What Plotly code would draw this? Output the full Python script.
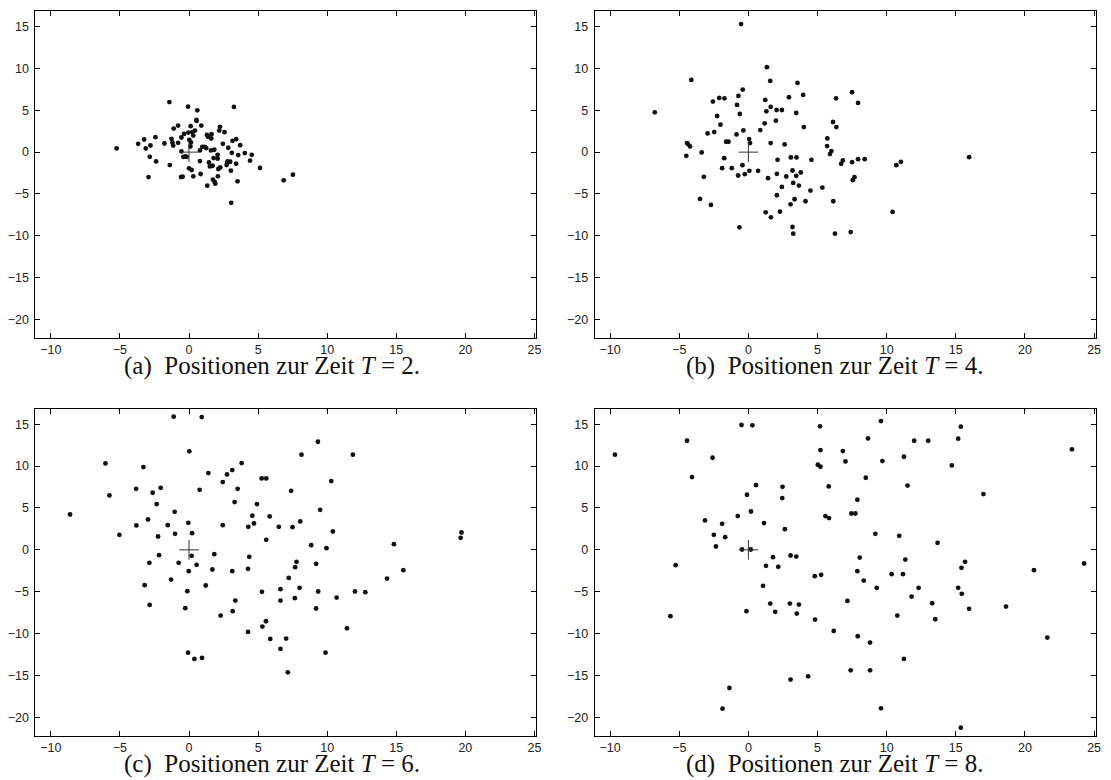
import plotly.graph_objects as go

# ---------------- data ----------------
x_ticks = [-10, -5, 0, 5, 10, 15, 20, 25]
y_ticks = [-20, -15, -10, -5, 0, 5, 10, 15]
x_limits = [-11.12, 25.12]
y_limits = [-22.2, 16.88]

captions = [
    "(a)\u2002Positionen zur Zeit <i>T</i> = 2.",
    "(b)\u2002Positionen zur Zeit <i>T</i> = 4.",
    "(c)\u2002Positionen zur Zeit <i>T</i> = 6.",
    "(d)\u2002Positionen zur Zeit <i>T</i> = 8.",
]

t2_x = [-5.24, -3.68, -3.25, -3.13, -2.79, -2.43, -2.84, -2.38, -2.93, -1.42,
        -1.78, -1.27, -1.20, -1.11, -0.79, -1.15, -1.39, -0.79, -0.55, -0.36,
        -0.55, -0.41, -0.26, -0.17, -0.58, -0.46, -0.07, -0.05, 0.12, 0.24,
        0.43, 0.53, 0.55, 0.60, 0.89, 0.02, 0.14, 0.10, 0.31, 0.00,
        0.19, 0.31, 0.79, 0.84, 0.79, 0.96, 1.13, 1.25, 1.30, 1.37,
        1.63, 1.61, 1.59, 1.83, 1.44, 1.51, 1.71, 1.78, 2.07, 2.07,
        1.73, 1.85, 1.90, 1.32, 2.09, 2.12, 2.26, 2.24, 2.19, 2.57,
        2.45, 2.84, 2.72, 2.79, 2.98, 2.76, 3.10, 3.03, 3.15, 3.41,
        3.70, 3.56, 3.41, 3.51, 3.25, 3.05, 4.04, 4.54, 4.42, 5.14,
        6.85, 7.52]
t2_y = [0.44, 0.99, 1.51, 0.44, 0.79, 1.79, -0.56, -1.11, -2.98, 5.99,
        1.03, 1.59, 1.15, 2.82, 3.17, 0.79, -1.55, 1.11, 1.75, 2.18,
        0.08, -0.56, -0.52, -0.56, -2.98, -2.94, 5.44, 2.34, 3.10, 2.38,
        2.58, 3.85, 3.73, 5.00, 3.17, 1.47, 1.15, 0.67, 1.98, -1.94,
        -2.14, -2.90, -1.07, -2.62, 0.20, 0.63, 0.63, 0.48, 2.06, 1.83,
        2.14, 1.63, 0.20, 0.28, -1.23, -1.71, -1.63, -0.71, -0.32, -0.79,
        -3.29, -3.57, -3.77, -4.01, -2.90, -2.02, -1.83, 3.02, 2.58, 2.38,
        0.99, 0.52, -1.55, -1.11, -1.15, -1.31, -0.08, -2.22, 1.35, 1.55,
        0.83, -0.36, -1.39, -3.49, 5.40, -6.07, -0.12, -0.32, -1.03, -1.90,
        -3.37, -2.70]

t4_x = [-0.53, 1.34, -4.13, 1.58, 3.55, -0.41, -0.72, -2.57, -2.11, -1.73,
        2.93, 3.96, 1.22, -0.82, 1.61, 1.30, 2.04, 2.42, -0.62, 3.46,
        -6.77, -2.26, 1.99, 1.18, -2.02, 4.01, -0.36, 0.86, -2.47, -2.95,
        -0.86, 0.05, 0.12, -1.61, -1.44, -4.44, -4.37, -4.22, -3.38, -4.49,
        1.61, 2.62, -1.75, 3.07, 3.48, 2.11, 4.56, -1.90, -1.20, -0.43,
        -0.74, -0.26, 0.07, 0.70, -3.22, 2.06, 2.74, 3.19, 3.46, 3.79,
        1.42, 3.24, 3.65, 2.42, 4.49, 5.35, 2.06, -3.50, -2.71, 3.34,
        3.05, 4.13, 6.14, 1.25, 1.63, 2.28, -0.65, 3.19, 3.24, 6.26,
        5.71, 5.69, 6.00, 5.90, 6.12, 6.36, 6.34,
        7.50, 7.93, 6.71, 6.83, 7.50, 7.93, 8.41, 7.55, 7.67, 7.40,
        10.43, 10.70, 11.03, 15.96]
t4_y = [15.32, 10.16, 8.64, 8.52, 8.28, 7.48, 6.72, 6.04, 6.48, 6.44,
        6.56, 6.84, 6.24, 5.64, 5.40, 4.88, 5.04, 5.04, 4.56, 4.68,
        4.76, 4.32, 3.76, 3.44, 3.28, 3.00, 2.60, 2.64, 2.40, 2.24,
        2.12, 1.56, 1.08, 1.24, 1.24, 1.08, 0.96, 0.68, -0.04, -0.44,
        1.08, 0.92, -0.72, -0.64, -0.64, -0.92, -0.92, -1.92, -1.92, -1.56,
        -2.80, -2.64, -2.24, -2.24, -2.96, -2.60, -2.92, -2.20, -2.84, -2.44,
        -3.12, -3.68, -4.00, -4.16, -4.60, -4.24, -5.16, -5.60, -6.32, -5.64,
        -6.24, -5.88, -5.88, -7.20, -7.80, -7.12, -9.00, -8.96, -9.76, -9.76,
        1.64, 0.72, 0.12, -0.24, 3.60, 3.00, 6.44,
        7.16, 5.88, -1.40, -1.00, -1.20, -0.84, -0.84, -3.36, -3.00, -9.56,
        -7.16, -1.56, -1.16, -0.60]

t6_x = [-1.11, 0.92, 0.02, -6.05, -3.30, 3.81, 3.13, 2.75, 1.40, 2.44,
        5.26, 5.59, -5.76, -3.83, -2.63, -2.05, 0.77, 3.52, 3.30, -2.34,
        -1.04, 4.92, -8.61, 4.58, 5.84, -2.97, -3.81, -1.54, -0.05, 2.44,
        4.29, 4.70, 6.50, -5.04, -2.24, -1.01, 0.22, 5.59, -2.17, 0.19,
        1.83, 4.36, -2.87, -0.75, 0.55, -0.02, 1.69, 3.13, 4.27, -1.30,
        -3.21, 1.21, -0.12, 5.28, 6.62, -2.85, 3.35, 6.62, -0.27, 3.16,
        2.29, 5.57, 5.31, 4.27, 5.88, 6.62, -0.07, 0.39, 0.94,
        9.33, 8.14, 11.86, 10.29, 7.39, 9.49, 7.49, 8.05, 10.41, 8.84,
        9.95, 7.78, 7.68, 9.20, 7.22, 8.00, 7.66, 9.35, 10.68, 9.20,
        12.01, 12.76, 14.33, 15.51, 14.83, 19.66, 19.72, 11.43, 7.03, 9.88,
        7.15]
t6_y = [15.90, 15.86, 11.76, 10.32, 9.88, 10.36, 9.53, 9.01, 9.17, 8.09,
        8.53, 8.53, 6.50, 7.29, 6.82, 7.41, 7.17, 7.29, 5.70, 5.46,
        4.54, 5.46, 4.22, 4.07, 3.99, 3.63, 2.91, 2.95, 3.23, 2.95,
        2.75, 3.15, 2.75, 1.79, 1.59, 1.91, 1.99, 1.20, -0.64, -0.72,
        -0.52, -0.84, -1.55, -1.55, -1.79, -2.55, -2.35, -2.55, -2.27, -3.55,
        -4.22, -4.26, -4.94, -5.02, -4.70, -6.58, -6.06, -6.06, -6.97, -7.33,
        -7.85, -8.53, -9.17, -9.80, -10.64, -11.84, -12.28, -13.03, -12.91,
        12.91, 11.36, 11.36, 8.21, 7.05, 4.78, 2.71, 3.39, 2.19, 0.56,
        0.20, -1.43, -2.07, -1.67, -3.35, -4.54, -5.78, -4.98, -5.70, -7.01,
        -4.98, -5.06, -3.43, -2.43, 0.68, 1.43, 2.07, -9.37, -10.60, -12.28,
        -14.63]

t8_x = [-9.65, -0.50, 0.29, 5.18, -4.44, -2.59, -4.08, 5.21, 5.02, 5.21,
        0.55, 2.47, 5.81, -0.10, 2.45, 0.19, -0.77, 5.57, 5.83, -3.14,
        -1.90, 1.13, 2.64, -2.50, -1.68, -2.35, -0.46, 0.17, -5.26, 1.78,
        3.05, 3.46, 1.27, 2.16, 4.80, 5.26, 1.06, 1.58, 3.00, 3.65,
        1.94, -0.14, 3.50, -5.64, 4.82, 6.17, 4.32, 3.05, -1.37, -1.87,
        9.59, 15.36, 8.65, 11.99, 13.00, 15.17, 6.83, 7.02, 9.69, 11.25,
        14.71, 23.40, 8.49, 11.51, 17.00, 7.88, 7.45, 7.74, 9.18, 10.91,
        13.68, 8.05, 11.35, 15.67, 15.41, 7.88, 10.36, 11.18, 8.34, 20.65,
        24.28, 9.28, 12.31, 15.17, 15.43, 11.80, 7.16, 13.29, 15.96, 18.63,
        10.77, 13.51, 7.91, 8.80, 21.62, 11.25, 7.40, 8.80, 9.59, 15.36]
t8_y = [11.36, 14.91, 14.87, 14.75, 13.03, 11.00, 8.69, 11.92, 10.16, 9.92,
        7.73, 7.53, 7.57, 6.58, 6.18, 4.58, 4.03, 4.03, 3.79, 3.51,
        3.11, 3.19, 2.47, 1.79, 1.51, 0.40, 0.04, 0.04, -1.83, -0.88,
        -0.68, -0.80, -1.91, -2.03, -3.15, -2.99, -4.30, -6.42, -6.42, -6.54,
        -7.41, -7.33, -7.61, -7.93, -8.33, -9.69, -15.11, -15.50, -16.50, -18.97,
        15.38, 14.71, 13.31, 13.03, 13.03, 13.27, 11.80, 10.56, 10.60, 11.12,
        10.08, 12.00, 8.61, 7.67, 6.66, 5.98, 4.34, 4.34, 1.91, 1.67,
        0.84, -0.92, -1.16, -1.43, -2.15, -2.55, -2.91, -2.91, -3.67, -2.43,
        -1.63, -4.54, -4.54, -4.54, -5.26, -5.58, -6.10, -6.38, -7.05, -6.78,
        -7.85, -8.29, -10.32, -11.08, -10.48, -13.03, -14.39, -14.39, -18.93, -21.24]

center_x = [0]
center_y = [0]

series = [(t2_x, t2_y), (t4_x, t4_y), (t6_x, t6_y), (t8_x, t8_y)]

# ---------------- layout geometry ----------------
# the page body has an 8px margin, so the figure is drawn 8px smaller and
# positions are given relative to the figure's own top-left corner
OFF = 8
W, H = 1111 - OFF, 780 - OFF


def px_x(v):
    return (v - OFF) / W


def px_y(v):
    return (H - (v - OFF)) / H


col_dom = [[px_x(35.5), px_x(538.5)], [px_x(597.3), px_x(1100.7)]]
row_dom = [[px_y(337.7), px_y(11.0)], [px_y(735.7), px_y(408.5)]]
cap_x = [px_x(273), px_x(838)]
cap_y = [px_y(365.5), px_y(763.5)]

fig = go.Figure()
tick_font = dict(family="Liberation Sans, Arial, sans-serif", size=12.5, color="#222222")

for i, (xs, ys) in enumerate(series):
    r, c = divmod(i, 2)
    sfx = "" if i == 0 else str(i + 1)
    fig.add_trace(go.Scatter(
        x=xs, y=ys, mode="markers",
        marker=dict(size=4.8, color="#111111"),
        xaxis="x" + sfx, yaxis="y" + sfx, showlegend=False, hoverinfo="x+y"))
    fig.add_trace(go.Scatter(
        x=center_x, y=center_y, mode="markers",
        marker=dict(symbol="cross-thin", size=14, color="#333333",
                    line=dict(width=1, color="#333333")),
        xaxis="x" + sfx, yaxis="y" + sfx, showlegend=False, hoverinfo="skip"))
    common = dict(showline=True, linecolor="black", linewidth=1, mirror="ticks",
                  ticks="inside", ticklen=5, tickwidth=1, tickcolor="black",
                  showgrid=False, zeroline=False, tickfont=tick_font)
    fig.layout["xaxis" + sfx] = dict(
        domain=col_dom[c], range=x_limits, anchor="y" + sfx,
        tickmode="array", tickvals=x_ticks, ticklabelstandoff=0, **common)
    fig.layout["yaxis" + sfx] = dict(
        domain=row_dom[r], range=y_limits, anchor="x" + sfx,
        tickmode="array", tickvals=y_ticks, ticklabelstandoff=3, **common)
    fig.add_annotation(
        text=captions[i], x=cap_x[c], y=cap_y[r], xref="paper", yref="paper",
        xanchor="center", yanchor="middle", showarrow=False,
        font=dict(family="Liberation Serif, Times New Roman, serif", size=25, color="#111111"))

fig.update_layout(
    width=W, height=H, margin=dict(l=0, r=0, t=0, b=0),
    paper_bgcolor="white", plot_bgcolor="white")

fig.write_html("out.html")
